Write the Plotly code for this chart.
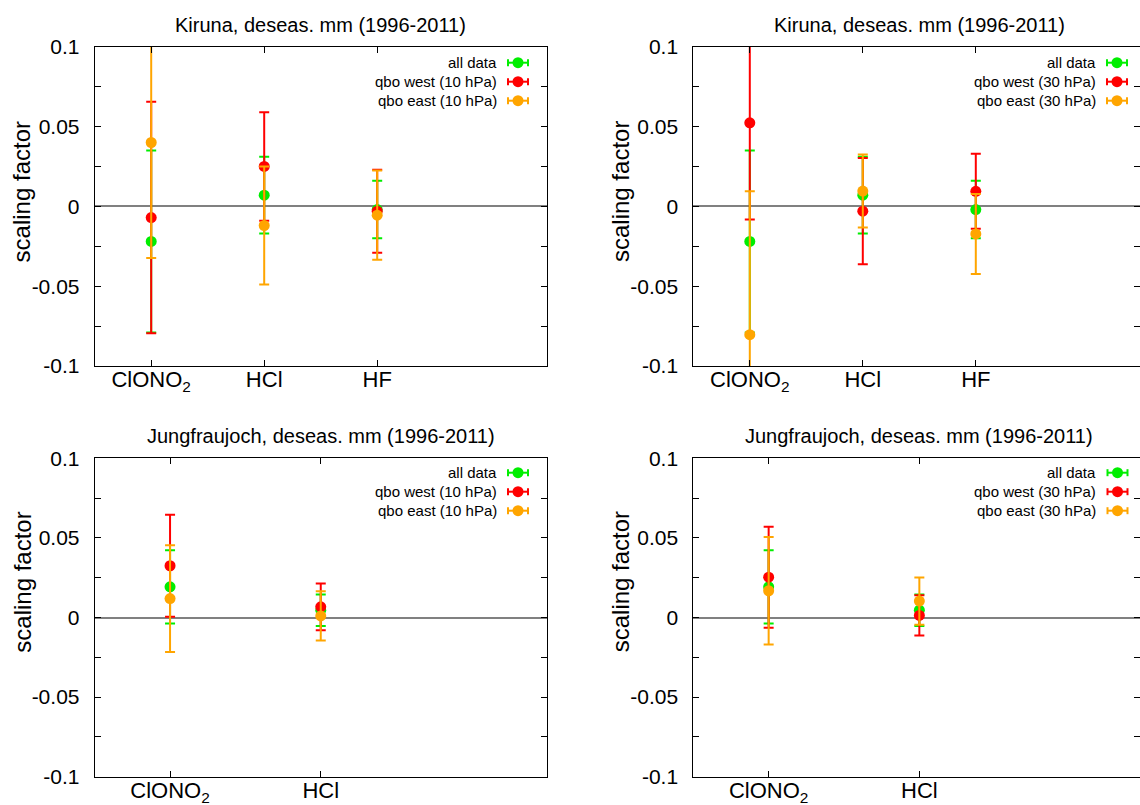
import plotly.graph_objects as go

# ---------------- data ----------------
cats_kiruna = ["ClONO<sub>2</sub>", "HCl", "HF"]
cats_jungfrau = ["ClONO<sub>2</sub>", "HCl"]
ytick_vals = [-0.1, -0.05, 0, 0.05, 0.1]
ytick_text = ["-0.1", "-0.05", "0", "0.05", "0.1"]

# Kiruna (ClONO2, HCl, HF)
kir_all = [-0.022, 0.007, -0.002]
kir_all_err = [0.057, 0.024, 0.018]
kir_west10 = [-0.007, 0.025, -0.003]
kir_west10_err = [0.0725, 0.034, 0.026]
kir_east10 = [0.040, -0.012, -0.0055]
kir_east10_err = [0.0723, 0.037, 0.028]
kir_west30 = [0.0523, -0.003, 0.0094]
kir_west30_err = [0.0606, 0.0333, 0.0235]
kir_east30 = [-0.0804, 0.0096, -0.0173]
kir_east30_err = [0.0898, 0.0228, 0.025]

# Jungfraujoch (ClONO2, HCl)
jfj_all = [0.0193, 0.0046]
jfj_all_err = [0.023, 0.0099]
jfj_west10 = [0.0325, 0.0067]
jfj_west10_err = [0.032, 0.0147]
jfj_east10 = [0.0119, 0.001]
jfj_east10_err = [0.0335, 0.0155]
jfj_west30 = [0.0253, 0.0013]
jfj_west30_err = [0.0317, 0.0126]
jfj_east30 = [0.0168, 0.0103]
jfj_east30_err = [0.0338, 0.0148]

# ---------------- styling ----------------
W, H = 1140, 805
FONT = "Liberation Sans, Arial, Helvetica, sans-serif"
GREEN, RED, ORANGE = "#00ee00", "#ff0000", "#ffa500"

def fx(x):
    return x / W

def fy(y):
    return 1 - y / H

panels = [
    dict(ax="", cats=cats_kiruna, title="Kiruna, deseas. mm (1996-2011)",
         series=[("all data", kir_all, kir_all_err, GREEN),
                 ("qbo west (10 hPa)", kir_west10, kir_west10_err, RED),
                 ("qbo east (10 hPa)", kir_east10, kir_east10_err, ORANGE)],
         left=94.7, step=113.0, top=46.7, bottom=366.0, ylab_y=191.7,
         title_y=25.0, leg_right=499.0, leg_cx=518.0, leg_y=62.7),
    dict(ax="2", cats=cats_kiruna, title="Kiruna, deseas. mm (1996-2011)",
         series=[("all data", kir_all, kir_all_err, GREEN),
                 ("qbo west (30 hPa)", kir_west30, kir_west30_err, RED),
                 ("qbo east (30 hPa)", kir_east30, kir_east30_err, ORANGE)],
         left=693.3, step=113.0, top=46.7, bottom=366.0, ylab_y=191.7,
         title_y=25.0, leg_right=1098.0, leg_cx=1117.0, leg_y=62.7),
    dict(ax="3", cats=cats_jungfrau, title="Jungfraujoch, deseas. mm (1996-2011)",
         series=[("all data", jfj_all, jfj_all_err, GREEN),
                 ("qbo west (10 hPa)", jfj_west10, jfj_west10_err, RED),
                 ("qbo east (10 hPa)", jfj_east10, jfj_east10_err, ORANGE)],
         left=94.7, step=150.7, top=458.3, bottom=776.7, ylab_y=582.0,
         title_y=436.0, leg_right=499.0, leg_cx=518.0, leg_y=472.7),
    dict(ax="4", cats=cats_jungfrau, title="Jungfraujoch, deseas. mm (1996-2011)",
         series=[("all data", jfj_all, jfj_all_err, GREEN),
                 ("qbo west (30 hPa)", jfj_west30, jfj_west30_err, RED),
                 ("qbo east (30 hPa)", jfj_east30, jfj_east30_err, ORANGE)],
         left=693.3, step=150.7, top=458.3, bottom=776.7, ylab_y=582.0,
         title_y=436.0, leg_right=1098.0, leg_cx=1117.5, leg_y=472.7),
]

fig = go.Figure()
annotations = []
shapes = []
layout = {}

for p in panels:
    n = len(p["cats"])
    xpos = list(range(1, n + 1))
    full_right = p["left"] + p["step"] * (n + 1)
    right = min(full_right, W)
    xmax = 0.5 + (right - p["left"]) / p["step"]
    xa = "xaxis" + p["ax"]
    ya = "yaxis" + p["ax"]
    xref = "x" + p["ax"]
    yref = "y" + p["ax"]

    for name, vals, errs, col in p["series"]:
        fig.add_trace(go.Scatter(
            x=xpos, y=vals, mode="markers", name=name, showlegend=False,
            marker=dict(color=col, size=11, line=dict(width=0)),
            error_y=dict(type="data", array=errs, visible=True, color=col,
                         thickness=2, width=5),
            xaxis=xref, yaxis=yref, hoverinfo="x+y"))

    layout[xa] = dict(
        domain=[fx(p["left"]), fx(right)], range=[0.5, xmax], anchor=yref,
        automargin=False,
        tickmode="array", tickvals=xpos, ticktext=p["cats"],
        ticks="inside", ticklen=6, tickcolor="black", tickwidth=1,
        showline=True, linecolor="black", linewidth=1, mirror="ticks",
        showgrid=False, zeroline=False, ticklabelstandoff=-6,
        tickfont=dict(family=FONT, size=22, color="black"))
    layout[ya] = dict(
        domain=[fy(p["bottom"]), fy(p["top"])], range=[-0.1, 0.1], anchor=xref,
        automargin=False,
        tickmode="array", tickvals=ytick_vals, ticktext=ytick_text,
        ticks="inside", ticklen=6, tickcolor="black", tickwidth=1,
        minor=dict(tickmode="linear", tick0=0, dtick=0.025, ticks="inside",
                   ticklen=6, tickcolor="black", showgrid=False),
        showline=True, linecolor="black", linewidth=1, mirror="ticks",
        showgrid=False, zeroline=True, zerolinecolor="#808080", zerolinewidth=1.5,
        ticklabelstandoff=10,
        tickfont=dict(family=FONT, size=21, color="black"))

    # title
    annotations.append(dict(
        text=p["title"], xref="paper", yref="paper",
        x=fx((p["left"] + full_right) / 2), y=fy(p["title_y"]),
        xanchor="center", yanchor="middle", showarrow=False,
        font=dict(family=FONT, size=20, color="black")))
    # y axis title
    annotations.append(dict(
        text="scaling factor", xref="paper", yref="paper",
        x=fx(p["left"] - 73), y=fy(p["ylab_y"]), textangle=-90,
        xanchor="center", yanchor="middle", showarrow=False,
        font=dict(family=FONT, size=24, color="black")))

    # legend (text left of key, gnuplot style)
    for i, (name, vals, errs, col) in enumerate(p["series"]):
        yy = p["leg_y"] + i * 19.0
        annotations.append(dict(
            text=name, xref="paper", yref="paper",
            x=fx(p["leg_right"]), y=fy(yy), xanchor="right", yanchor="middle",
            showarrow=False, font=dict(family=FONT, size=15, color="black")))
        cx = p["leg_cx"]
        shapes.append(dict(type="line", xref="paper", yref="paper",
                           x0=fx(cx - 10), x1=fx(cx + 10), y0=fy(yy), y1=fy(yy),
                           line=dict(color=col, width=2)))
        for ex in (cx - 10, cx + 10):
            shapes.append(dict(type="line", xref="paper", yref="paper",
                               x0=fx(ex), x1=fx(ex), y0=fy(yy - 3.5), y1=fy(yy + 3.5),
                               line=dict(color=col, width=2)))
        shapes.append(dict(type="circle", xref="paper", yref="paper",
                           x0=fx(cx - 5.5), x1=fx(cx + 5.5), y0=fy(yy + 5.5), y1=fy(yy - 5.5),
                           fillcolor=col, line=dict(color=col, width=0)))

fig.update_layout(
    width=W, height=H, margin=dict(l=0, r=0, t=0, b=0, autoexpand=False),
    paper_bgcolor="white", plot_bgcolor="white",
    showlegend=False, annotations=annotations, shapes=shapes,
    font=dict(family=FONT, color="black"),
    **layout)

fig.write_html("out.html")
